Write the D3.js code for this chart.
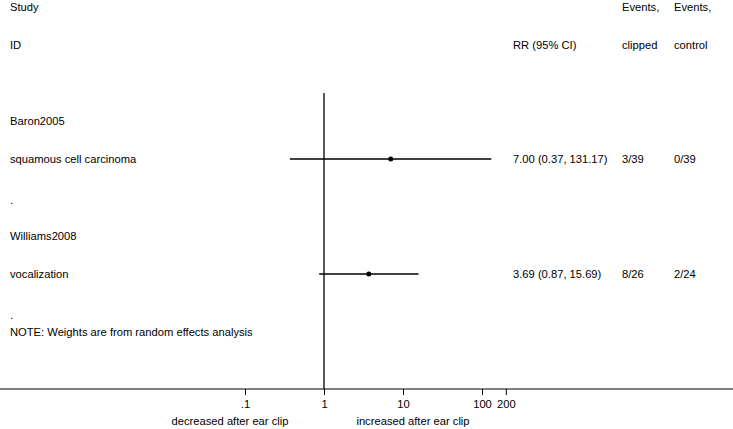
<!DOCTYPE html>
<html><head><meta charset="utf-8">
<script src="https://cdn.jsdelivr.net/npm/d3@7"></script>
<style>body{margin:0;background:#fff}text{font-family:"Liberation Sans",Arial,sans-serif;font-size:11.2px;fill:#000}</style>
</head><body><svg id="c" width="733" height="429"></svg>
<script>
const studies = ["Baron2005", "Williams2008"];
const outcomes = ["squamous cell carcinoma", "vocalization"];
const rr = [7.00, 3.69];
const lower = [0.37, 0.87];
const upper = [131.17, 15.69];
const eventsClipped = ["3/39", "8/26"];
const eventsControl = ["0/39", "2/24"];
const tickValues = [0.1, 1, 10, 100, 200];
const tickLabels = [".1", "1", "10", "100", "200"];
const note = "NOTE: Weights are from random effects analysis";
const favourLabels = ["decreased after ear clip", "increased after ear clip"];

const svg = d3.select("#c");
const x = d3.scaleLog().domain([1, 10]).range([324, 403]);
const axisY = 389;
const rowY = {studyHead:7, idHead:45, s0:121, o0:159, d0:200, s1:236, o1:274, d1:315, note:332};

function txt(xp, yp, s, anchor) {
  svg.append("text").attr("x", xp).attr("y", yp).attr("dy", "0.35em")
    .attr("text-anchor", anchor || "start").text(s);
}
txt(10, rowY.studyHead, "Study");
txt(10, rowY.idHead, "ID");
txt(513, rowY.idHead, "RR (95% CI)");
txt(622, rowY.studyHead, "Events,");
txt(622, rowY.idHead, "clipped");
txt(674, rowY.studyHead, "Events,");
txt(674, rowY.idHead, "control");

const sY = [rowY.s0, rowY.s1], oY = [rowY.o0, rowY.o1], dY = [rowY.d0, rowY.d1];
studies.forEach((s, i) => {
  txt(10, sY[i], s);
  txt(10, oY[i], outcomes[i]);
  txt(10, dY[i], ".");
  txt(513, oY[i], rr[i].toFixed(2) + " (" + lower[i].toFixed(2) + ", " + upper[i].toFixed(2) + ")");
  txt(622, oY[i], eventsClipped[i]);
  txt(674, oY[i], eventsControl[i]);
});
txt(10, rowY.note, note);

// null line
svg.append("line").attr("x1", x(1)).attr("x2", x(1)).attr("y1", 93).attr("y2", axisY)
  .attr("stroke", "#000").attr("stroke-width", 1.3);

// CIs
svg.selectAll("line.ci").data(rr).enter().append("line")
  .attr("x1", (d, i) => x(lower[i])).attr("x2", (d, i) => x(upper[i]))
  .attr("y1", (d, i) => oY[i]).attr("y2", (d, i) => oY[i])
  .attr("stroke", "#000").attr("stroke-width", 1.3);
svg.selectAll("circle.pt").data(rr).enter().append("circle")
  .attr("cx", d => x(d)).attr("cy", (d, i) => oY[i]).attr("r", 2.5).attr("fill", "#000");

// axis
const axisG = svg.append("g").attr("transform", "translate(0," + axisY + ")");
axisG.append("line").attr("x1", 0).attr("x2", 733).attr("stroke", "#000").attr("stroke-width", 1);
const ax = d3.axisBottom(x).tickValues(tickValues).tickFormat((d, i) => tickLabels[i]).tickSize(6).tickSizeOuter(0);
const g = axisG.append("g").call(ax);
g.select(".domain").remove();
g.selectAll(".tick line").attr("stroke", "#000");
g.selectAll(".tick text").attr("y", 11).attr("dy", "0.71em").style("font-family", "Liberation Sans, Arial, sans-serif").style("font-size", "11.2px");

txt(x(1) - 94, 421, favourLabels[0], "middle");
txt(x(1) + 89, 421, favourLabels[1], "middle");
</script></body></html>
